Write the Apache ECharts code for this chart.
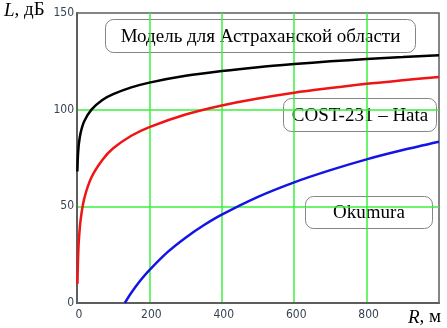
<!DOCTYPE html>
<html>
<head>
<meta charset="utf-8">
<script src="https://cdn.jsdelivr.net/npm/echarts@6/dist/echarts.min.js"></script>
<style>
  html, body { margin: 0; padding: 0; background: #fff; }
  #chart { width: 447px; height: 328px; }
</style>
</head>
<body>
<div id="chart"></div>
<script>
// Path loss L (dB) versus distance R (m) for three propagation models
const distAstrakhan = [1, 2, 3, 5, 10, 20, 40, 70, 100, 150, 200, 300, 400, 500, 600, 700, 800, 900, 1000];
const lossAstrakhan = [68, 74, 77.5, 82, 88, 94, 100, 105, 108, 111.5, 114, 117.5, 120, 122, 123.6, 125, 126.2, 127.2, 128.2];

const distCost = [1.3, 2, 3, 5, 10, 20, 40, 70, 100, 150, 200, 300, 400, 500, 600, 700, 800, 900, 1000];
const lossCost = [10, 17, 23.5, 32, 43, 54, 65, 74, 80, 86.5, 91, 97.5, 102.2, 105.8, 108.8, 111.2, 113.4, 115.2, 116.9];

const distOkumura = [132, 150, 175, 200, 250, 300, 350, 400, 500, 600, 700, 800, 900, 1000];
const lossOkumura = [0, 5.3, 11.6, 17, 26.3, 33.8, 40.2, 45.7, 54.9, 62.4, 68.7, 74.3, 79.1, 83.4];

const xTicks = { min: 0, max: 1000, step: 200 };
const yTicks = { min: 0, max: 150, step: 50 };

const seriesNames = ['Модель для Астраханской области', 'COST-231 – Hata', 'Okumura'];

function pairs(xs, ys) {
  return xs.map((x, i) => [x, ys[i]]);
}

const chart = echarts.init(document.getElementById('chart'), null, { renderer: 'canvas' });

const tickFont = {
  color: '#364454',
  fontSize: 12,
  fontFamily: '"Liberation Sans Narrow", "DejaVu Sans Condensed", "Liberation Sans", sans-serif'
};

const gridGreen = '#3cf03c';
const frame = '#5e5e5e';
const serif = '"Liberation Serif", "DejaVu Serif", serif';

function boxLabel(text, left, top, width, height) {
  return {
    type: 'group',
    left: left,
    top: top,
    children: [
      {
        type: 'rect',
        shape: { x: 0, y: 0, width: width, height: height, r: 8 },
        style: { fill: '#fff', stroke: '#858585', lineWidth: 1 }
      },
      {
        type: 'text',
        x: width / 2,
        y: height / 2 + 1,
        style: {
          text: text,
          fill: '#000',
          font: '19px ' + serif,
          align: 'center',
          verticalAlign: 'middle'
        }
      }
    ]
  };
}

chart.setOption({
  animation: false,
  backgroundColor: '#fff',
  grid: {
    left: 77, right: 8, top: 13, bottom: 25,
    show: true,
    borderColor: frame,
    borderWidth: 1.5
  },
  xAxis: {
    type: 'value',
    min: xTicks.min, max: xTicks.max, interval: xTicks.step,
    axisLine: { show: true, onZero: false, lineStyle: { color: frame, width: 2 } },
    axisTick: { show: false },
    axisLabel: Object.assign({
      margin: 6,
      padding: [0, 0, 0, 4],
      formatter: v => (v === xTicks.max ? '' : String(v))
    }, tickFont),
    splitLine: { show: true, showMinLine: false, showMaxLine: false, lineStyle: { color: gridGreen, width: 1.5 } }
  },
  yAxis: {
    type: 'value',
    min: yTicks.min, max: yTicks.max, interval: yTicks.step,
    axisLine: { show: true, onZero: false, lineStyle: { color: frame, width: 2 } },
    axisTick: { show: false },
    axisLabel: Object.assign({ margin: 3, padding: [3, 0, 0, 0] }, tickFont),
    splitLine: { show: true, showMinLine: false, showMaxLine: false, lineStyle: { color: gridGreen, width: 1.5 } }
  },
  series: [
    {
      name: seriesNames[0], type: 'line', smooth: 0.3, symbol: 'none', z: 3,
      lineStyle: { color: '#000', width: 2.5 },
      data: pairs(distAstrakhan, lossAstrakhan)
    },
    {
      name: seriesNames[1], type: 'line', smooth: 0.3, symbol: 'none', z: 3,
      lineStyle: { color: '#f01414', width: 2.5 },
      data: pairs(distCost, lossCost)
    },
    {
      name: seriesNames[2], type: 'line', smooth: 0.3, symbol: 'none', z: 3,
      lineStyle: { color: '#1414e6', width: 2.5 },
      data: pairs(distOkumura, lossOkumura)
    }
  ],
  graphic: [
    {
      type: 'text', left: 4, top: 1,
      style: {
        text: '{i|L}, дБ',
        font: '19px ' + serif,
        fill: '#000',
        rich: { i: { fontStyle: 'italic', fontFamily: serif, fontSize: 19 } }
      }
    },
    {
      type: 'text', left: 408, top: 308,
      style: {
        text: '{i|R}, м',
        font: '19px ' + serif,
        fill: '#000',
        rich: { i: { fontStyle: 'italic', fontFamily: serif, fontSize: 19 } }
      }
    },
    boxLabel(seriesNames[0], 105, 19, 310, 33),
    boxLabel(seriesNames[1], 283, 98, 153, 33),
    boxLabel(seriesNames[2], 305, 196, 127, 32)
  ]
});
</script>
</body>
</html>
